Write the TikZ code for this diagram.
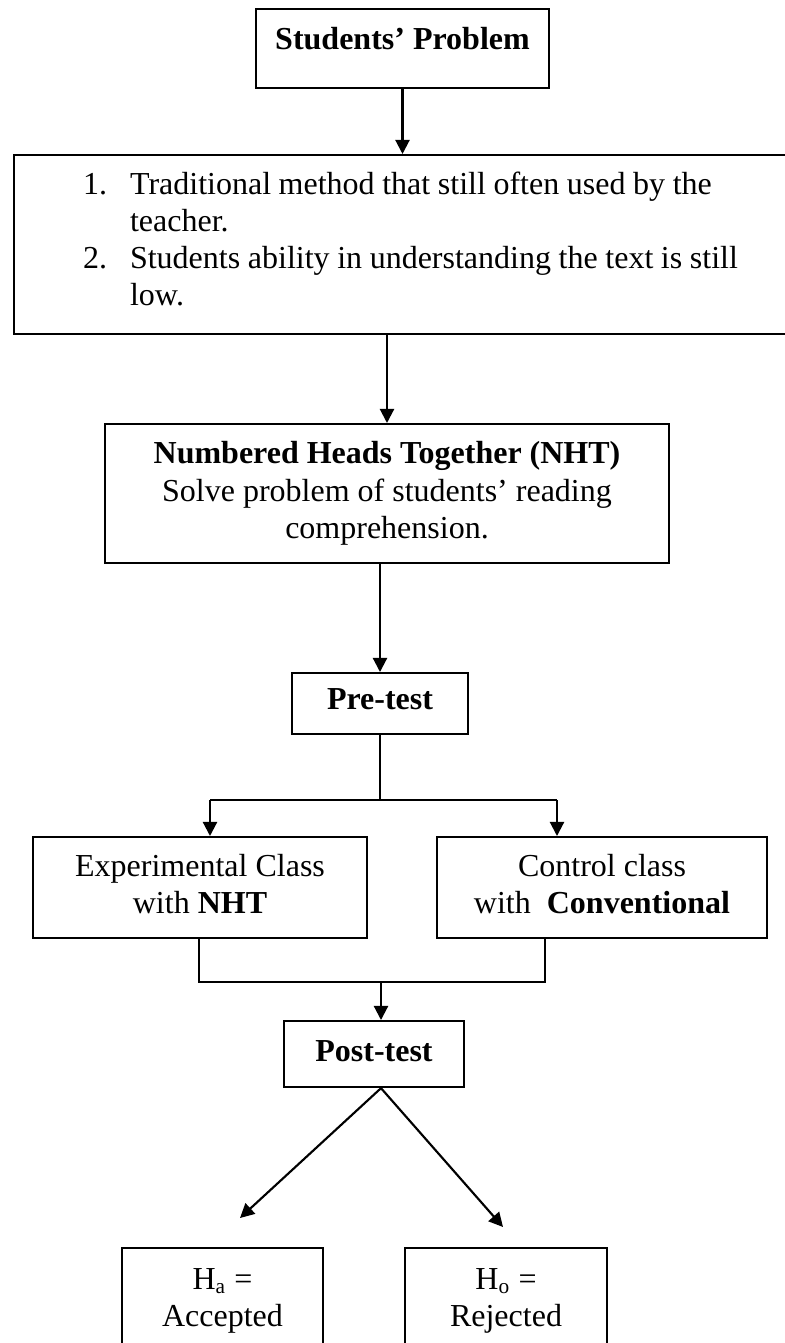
\documentclass[tikz,border=0pt]{standalone}
\usepackage{fontspec}
\setmainfont{Liberation Serif}
\usepackage{tikz}
\usetikzlibrary{arrows.meta}
\newdimen\pxu
\pxu=0.375pt

\begin{document}
\begin{tikzpicture}[x=0.375pt,y=-0.375pt,
		font=\fontsize{12}{13.9}\selectfont,
		box/.style={draw,line width=0.8pt,inner sep=0pt,anchor=north},
		arrow/.style={line width=0.8pt,-{Triangle[length=5.3pt,width=5.3pt]}},
		link/.style={line width=0.8pt}]
	% Rahmen: 784 x 1343 Pixel
	\useasboundingbox (0,0) rectangle (784,1343);
	% Kaesten (text height bis zur letzten Grundlinie)
	\node[box,minimum width=293\pxu,text height=40\pxu,text depth=39\pxu] (problem) at (402.5,8) {\textbf{Students' Problem}};
	\node[box,anchor=north west,text width=777\pxu,text height=39\pxu,text depth=140\pxu] (causes) at (13,154)
		{\spaceskip=2.85pt plus 1pt\hspace*{69\pxu}\begin{tabular}[t]{@{}p{47\pxu}@{}l@{}}
			1. & Traditional method that still often used by the\\
			   & teacher.\\
			2. & Students ability in understanding the text is still\\
			   & low.
		\end{tabular}};
	\node[box,align=center,minimum width=564\pxu,text height=114\pxu,text depth=25\pxu] (nht) at (387,423)
		{\textbf{Numbered Heads Together (NHT)}\\Solve problem of students' reading\\comprehension.};
	\node[box,minimum width=176\pxu,text height=36\pxu,text depth=25\pxu] (pretest) at (380,672) {\textbf{Pre-test}};
	\node[box,align=center,minimum width=334\pxu,text height=76\pxu,text depth=25\pxu] (expclass) at (200,836)
		{Experimental Class\\with \textbf{NHT}};
	\node[box,align=center,minimum width=330\pxu,text height=76\pxu,text depth=25\pxu] (ctrlclass) at (602,836)
		{Control class\\with \ \textbf{Conventional}};
	\node[box,minimum width=180\pxu,text height=40\pxu,text depth=26\pxu] (posttest) at (374,1020) {\textbf{Post-test}};
	\node[box,align=center,minimum width=201\pxu,text height=78\pxu,text depth=82\pxu] (accepted) at (222.5,1247)
		{H\textsubscript{a} =\\Accepted};
	\node[box,align=center,minimum width=202\pxu,text height=78\pxu,text depth=82\pxu] (rejected) at (506,1247)
		{H\textsubscript{o} =\\Rejected};
	% Pfeile nach unten
	\draw[arrow] (problem.south) -- (problem.south |- causes.north);
	\draw[arrow] (nht.north |- causes.south) -- (nht.north);
	\draw[arrow] (pretest.north |- nht.south) -- (pretest.north);
	% Verzweigung nach dem Pre-test
	\coordinate (forkL) at (210,800);
	\coordinate (forkR) at (557,800);
	\draw[link] (pretest.south) -- (pretest.south |- forkL);
	\draw[link] (forkL) -- (forkR);
	\draw[arrow] (forkL) -- (forkL |- expclass.north);
	\draw[arrow] (forkR) -- (forkR |- ctrlclass.north);
	% Zusammenfuehrung zum Post-test
	\coordinate (joinL) at (199,982);
	\coordinate (joinR) at (545,982);
	\coordinate (joinM) at (381,982);
	\draw[link] (joinL |- expclass.south) -- (joinL) -- (joinR) -- (joinR |- ctrlclass.south);
	\draw[arrow] (joinM) -- (joinM |- posttest.north);
	% Hypothesen
	\coordinate (tipA) at (240,1218);
	\coordinate (tipR) at (503,1227);
	\draw[arrow] (posttest.south -| joinM) -- (tipA);
	\draw[arrow] (posttest.south -| joinM) -- (tipR);
\end{tikzpicture}
\end{document}
